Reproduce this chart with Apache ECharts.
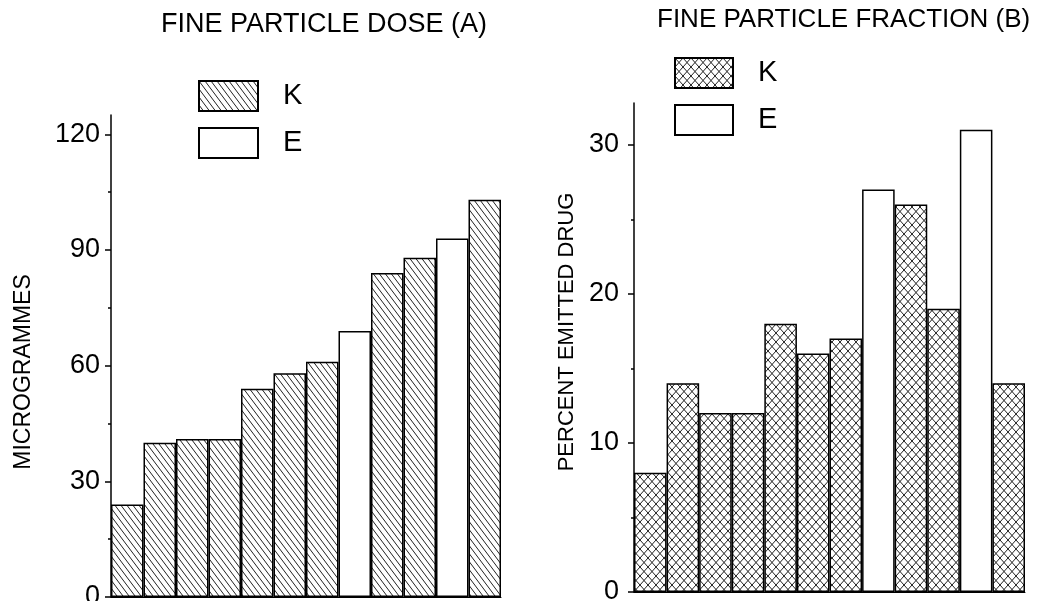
<!DOCTYPE html>
<html>
<head>
<meta charset="utf-8">
<script src="https://cdn.jsdelivr.net/npm/echarts@6/dist/echarts.min.js"></script>
<style>
  html, body { margin: 0; padding: 0; background: #fff; }
  #main { width: 1055px; height: 601px; }
</style>
</head>
<body>
<div id="main"></div>
<script>
var categories = ['1', '2', '3', '4', '5', '6', '7', '8', '9', '10', '11', '12'];
var groups = ['K', 'K', 'K', 'K', 'K', 'K', 'K', 'E', 'K', 'K', 'E', 'K'];
var doseValues = [24, 40, 41, 41, 54, 58, 61, 69, 84, 88, 93, 103];
var fractionValues = [8, 14, 12, 12, 18, 16, 17, 27, 26, 19, 31, 14];
var doseTicks = [0, 30, 60, 90, 120];
var doseMinor = [15, 45, 75, 105];
var fractionTicks = [0, 10, 20, 30];
var fractionMinor = [5, 15, 25];

var font = 'Liberation Sans';

// hatch fills drawn on small canvases, used as pattern colours
function hatch(w, h, cross) {
  var c = document.createElement('canvas');
  c.width = w; c.height = h;
  var g = c.getContext('2d');
  g.fillStyle = '#fff';
  g.fillRect(0, 0, w, h);
  g.strokeStyle = '#222';
  g.lineWidth = 1;
  g.beginPath();
  for (var k = -1; k <= 1; k++) {
    g.moveTo(k * w, 0); g.lineTo(k * w + w, h);
    if (cross) { g.moveTo(k * w + w, 0); g.lineTo(k * w, h); }
  }
  g.stroke();
  return c;
}
var diagFill = { image: hatch(6, 8, false), repeat: 'repeat' };
var crossFill = { image: hatch(8, 9, true), repeat: 'repeat' };

function pick(values, g) {
  return values.map(function (v, i) { return groups[i] === g ? v : '-'; });
}

function barSeries(name, values, g, idx, fill) {
  return {
    name: name,
    type: 'bar',
    xAxisIndex: idx,
    yAxisIndex: idx * 2,
    data: pick(values, g),
    barGap: '-100%',
    barCategoryGap: '0%',
    itemStyle: { color: fill, borderColor: '#000', borderWidth: 1.5 }
  };
}

function xAx(idx) {
  return {
    type: 'category', gridIndex: idx, data: categories,
    axisLine: { lineStyle: { color: '#000', width: 1 } },
    axisTick: { show: false }, axisLabel: { show: false }
  };
}

function yMain(idx, max, interval, ticks, margin) {
  return {
    type: 'value', gridIndex: idx, min: 0, max: max, interval: interval,
    splitLine: { show: false },
    axisLine: { show: true, lineStyle: { color: '#000', width: 1.5 } },
    axisTick: { show: true, customValues: ticks, length: 6, lineStyle: { color: '#000', width: 1.5 } },
    axisLabel: { customValues: ticks, color: '#000', fontFamily: font, fontSize: 27, margin: margin }
  };
}

function yMinor(idx, max, interval, ticks) {
  return {
    type: 'value', gridIndex: idx, min: 0, max: max, interval: interval, position: 'left',
    splitLine: { show: false },
    axisLine: { show: false },
    axisTick: { show: true, customValues: ticks, length: 3, lineStyle: { color: '#000', width: 1.5 } },
    axisLabel: { show: false }
  };
}

var myChart = echarts.init(document.getElementById('main'));
option = {
  animation: false,
  backgroundColor: '#fff',
  title: [
    { text: 'FINE PARTICLE DOSE (A)', left: 161, top: 11, padding: 0,
      textStyle: { fontFamily: font, fontSize: 27, fontWeight: 'normal', color: '#000' } },
    { text: 'FINE PARTICLE FRACTION (B)', left: 657, top: 7, padding: 0,
      textStyle: { fontFamily: font, fontSize: 26, fontWeight: 'normal', color: '#000' } }
  ],
  legend: [
    { data: ['K', 'E'], left: 198, top: 80, orient: 'vertical',
      padding: 0, itemWidth: 59, itemHeight: 30, itemGap: 15, icon: 'rect',
      textStyle: { fontFamily: font, fontSize: 29, color: '#000', padding: [0, 0, 0, 20] } },
    { data: ['K ', 'E '], left: 674, top: 57, orient: 'vertical',
      padding: 0, itemWidth: 58, itemHeight: 30, itemGap: 15, icon: 'rect',
      formatter: function (n) { return n.trim(); },
      textStyle: { fontFamily: font, fontSize: 29, color: '#000', padding: [0, 0, 0, 20] } }
  ],
  grid: [
    { left: 111, top: 115, width: 390, height: 482, outerBoundsMode: 'none', containLabel: false },
    { left: 634, top: 103, width: 391, height: 489, outerBoundsMode: 'none', containLabel: false }
  ],
  xAxis: [xAx(0), xAx(1)],
  yAxis: [
    yMain(0, 125, 30, doseTicks, 11), yMinor(0, 125, 30, doseMinor),
    yMain(1, 32.8, 10, fractionTicks, 15), yMinor(1, 32.8, 10, fractionMinor)
  ],
  graphic: [
    { type: 'text', x: 12, y: 372, rotation: Math.PI / 2,
      style: { text: 'MICROGRAMMES', fontFamily: font, fontSize: 23, fill: '#000', align: 'center', verticalAlign: 'top' } },
    { type: 'text', x: 556, y: 332, rotation: Math.PI / 2,
      style: { text: 'PERCENT EMITTED DRUG', fontFamily: font, fontSize: 22, fill: '#000', align: 'center', verticalAlign: 'top' } }
  ],
  series: [
    barSeries('K', doseValues, 'K', 0, diagFill),
    barSeries('E', doseValues, 'E', 0, '#fff'),
    barSeries('K ', fractionValues, 'K', 1, crossFill),
    barSeries('E ', fractionValues, 'E', 1, '#fff')
  ]
};
myChart.setOption(option);
</script>
</body>
</html>
